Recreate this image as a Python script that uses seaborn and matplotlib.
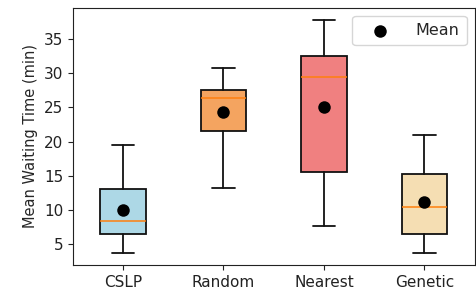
import matplotlib
matplotlib.use("Agg")
import matplotlib.pyplot as plt
import seaborn as sns
import pandas as pd

categories = ["CSLP", "Random", "Nearest", "Genetic"]
whisker_low = [3.6, 13.2, 7.6, 3.6]
q1 = [6.4, 21.5, 15.6, 6.4]
median = [8.3, 26.4, 29.5, 10.4]
q3 = [13.0, 27.6, 32.6, 15.3]
whisker_high = [19.5, 30.8, 37.8, 21.0]
means = [10.0, 24.4, 25.1, 11.1]
colors = ["#ADD8E6", "#F4A460", "#F08080", "#F5DEB3"]

sns.set_style("ticks")
plt.rcParams["font.family"] = ["DejaVu Sans"]

fig = plt.figure(figsize=(4.76, 2.96), dpi=100)
ax = fig.add_axes([0.153, 0.105, 0.844, 0.868])

stats = []
for c, lo, a, m, b, hi in zip(categories, whisker_low, q1, median, q3, whisker_high):
    stats.append(dict(label=c, whislo=lo, q1=a, med=m, q3=b, whishi=hi, fliers=[]))

bp = ax.bxp(stats, positions=range(len(categories)), widths=0.45,
            patch_artist=True, manage_ticks=False,
            boxprops=dict(edgecolor="#111111", linewidth=1.3),
            whiskerprops=dict(color="#111111", linewidth=1.3),
            capprops=dict(color="#111111", linewidth=1.3),
            medianprops=dict(color="#ff7f0e", linewidth=1.1))
for patch, col in zip(bp["boxes"], colors):
    patch.set_facecolor(col)

df = pd.DataFrame({"Algorithm": categories, "Mean": means})
sns.stripplot(data=df, x="Algorithm", y="Mean", order=categories, jitter=False,
              color="black", size=9, ax=ax, zorder=5, label="Mean")

ax.set_xlim(-0.5, 3.5)
ax.set_ylim(1.9, 39.6)
ax.set_yticks([5, 10, 15, 20, 25, 30, 35])
ax.set_xlabel("")
ax.set_ylabel("Mean Waiting Time (min)", fontsize=10.5)
ax.tick_params(axis="both", labelsize=11, colors="#222222")
for s in ax.spines.values():
    s.set_visible(True)
    s.set_color("#222222")

h, l = ax.get_legend_handles_labels()
ax.legend(h[:1], l[:1], loc="upper right", fontsize=11.5, handlelength=2.6,
          handletextpad=0.9, borderpad=0.45, frameon=True)

fig.savefig("out.png", dpi=100)
